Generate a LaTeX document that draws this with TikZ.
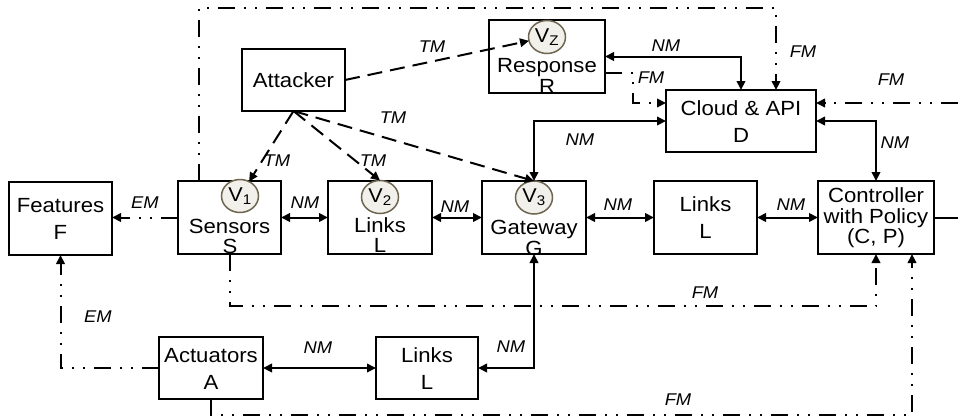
\documentclass[tikz,border=0pt]{standalone}
\usepackage{fontspec}
\setmainfont[FakeStretch=1.08]{Liberation Sans}
\usetikzlibrary{arrows.meta,shapes.geometric}
\definecolor{vgray}{HTML}{6E6650}
\definecolor{vfill}{HTML}{F1F0EB}
\begin{document}
\begin{tikzpicture}[x=1pt,y=-1pt,
  >={Triangle[length=9pt,width=8.5pt]},
  box/.style={draw, line width=2pt, inner sep=0pt, outer sep=0pt},
  vcirc/.style={ellipse, draw=vgray, fill=vfill, line width=1.5pt, minimum width=37pt, minimum height=33pt, inner sep=0pt, outer sep=0pt, font=\fontsize{20}{20}\selectfont},
  txt/.style={anchor=base, inner sep=0pt, font=\fontsize{20.5}{20.5}\selectfont},
  lab/.style={inner sep=0pt, font=\fontsize{17}{17}\selectfont\itshape},
  conn/.style={line width=2pt},
  tmline/.style={conn, dash pattern=on 15pt off 8pt},
  fmline/.style={conn, dash pattern=on 17pt off 9pt on 2pt off 9pt on 2pt off 9pt}]
\fill[white] (0,0) rectangle (958,418);
\useasboundingbox (0,0) rectangle (958,418);

% boxes
\node[box, minimum width=103pt, minimum height=73pt] (feat) at (60.5,218.5) {};
\node[box, minimum width=103pt, minimum height=73pt] (sens) at (229.5,217.5) {};
\node[box, minimum width=104pt, minimum height=73pt] (lnk2) at (380,217.5) {};
\node[box, minimum width=104pt, minimum height=73pt] (gate) at (534,217.5) {};
\node[box, minimum width=103pt, minimum height=73pt] (lnkm) at (705.5,217.5) {};
\node[box, minimum width=116pt, minimum height=73pt] (ctrl) at (876,217.5) {};
\node[box, minimum width=103pt, minimum height=62pt] (att) at (293.5,80) {};
\node[box, minimum width=116pt, minimum height=73pt] (resp) at (547,56.5) {};
\node[box, minimum width=150pt, minimum height=62pt] (cloud) at (741,121) {};
\node[box, minimum width=104pt, minimum height=62pt] (act) at (211,368) {};
\node[box, minimum width=102pt, minimum height=62pt] (lnkb) at (427,368) {};

% vulnerability circles
\node[vcirc] (v1) at (240,196) {V\textsubscript{1}};
\node[vcirc] (v2) at (380,197) {V\textsubscript{2}};
\node[vcirc] (v3) at (534,197.5) {V\textsubscript{3}};
\node[vcirc] (vz) at (547,37) {V\textsubscript{Z}};

% box texts
\node[txt] (tfeat1) at (60.5,212) {Features};
\node[txt] (tfeat2) at (60.5,239) {F};
\node[txt] (tsens1) at (229.5,233) {Sensors};
\node[txt] (tsens2) at (230,253) {S};
\node[txt] (tlnk21) at (380,232) {Links};
\node[txt] (tlnk22) at (380,252) {L};
\node[txt] (tgate1) at (534,234) {Gateway};
\node[txt] (tgate2) at (534,255) {G};
\node[txt] (tlnkm1) at (705.5,211) {Links};
\node[txt] (tlnkm2) at (705.5,238) {L};
\node[txt] (tctrl1) at (876,202) {Controller};
\node[txt] (tctrl2) at (876,223) {with Policy};
\node[txt] (tctrl3) at (876,243) {(C, P)};
\node[txt] (tatt) at (293.5,87) {Attacker};
\node[txt] (tresp1) at (547,72) {Response};
\node[txt] (tresp2) at (547,93) {R};
\node[txt] (tcloud1) at (741,115) {Cloud \& API};
\node[txt] (tcloud2) at (741,142) {D};
\node[txt] (tact1) at (211,362) {Actuators};
\node[txt] (tact2) at (211,389) {A};
\node[txt] (tlnkb1) at (427,362) {Links};
\node[txt] (tlnkb2) at (427,389) {L};

% helper coordinates
\coordinate (topR) at (776,8);
\coordinate (rightend) at (958,217.5);
\coordinate (rfm) at (958,103);
\coordinate (row1) at (0,306);
\coordinate (row2) at (0,415);
\coordinate (c2in) at (912,254);

% attacker threats
\draw[tmline,->] (att.east) -- (vz);
\draw[tmline,->] (att.south) -- (v1);
\draw[tmline,->] (att.south) -- (v2.north);
\draw[tmline,->] (att.south) -- (v3.north);

% network messages
\draw[conn,<->] (sens.east) -- (lnk2.west);
\draw[conn,<->] (lnk2.east) -- (gate.west);
\draw[conn,<->] (gate.east) -- (lnkm.west);
\draw[conn,<->] (lnkm.east) -- (ctrl.west);
\draw[conn] (ctrl.east) -- (rightend);
\draw[conn,<->] (resp.east) -| (cloud.north);
\draw[conn,<->] (cloud.west) -| (gate.north);
\draw[conn,<->] (cloud.east) -| (ctrl.north);
\draw[conn,<->] (gate.south) |- (lnkb.east);
\draw[conn,<->] (act.east) -- (lnkb.west);

% feedback / event messages
\draw[fmline,->] (sens.west) -- (sens.west -| feat.east);
\draw[fmline,->] (act.west) -| (feat.south);
\draw[fmline,->] ([xshift=-30.5pt]sens.north) |- (topR) -- (topR |- cloud.north);
\draw[fmline,->] ([yshift=-16.5pt]resp.east) -- ++(28,0) |- ([yshift=18pt]cloud.west);
\draw[fmline,->] (rfm) -- ([yshift=18pt]cloud.east);
\draw[fmline,->] (sens.south) |- (row1 -| ctrl.south) -- (ctrl.south);
\draw[fmline,->] (act.south) |- (c2in |- row2) -- (c2in);

% labels
\node[lab] (l1) at (432,47) {TM};
\node[lab] (l2) at (277,161) {TM};
\node[lab] (l3) at (373,161) {TM};
\node[lab] (l4) at (393,118) {TM};
\node[lab] (l5) at (803,52) {FM};
\node[lab] (l6) at (666,46) {NM};
\node[lab] (l7) at (651,78) {FM};
\node[lab] (l8) at (891,80) {FM};
\node[lab] (l9) at (580,140) {NM};
\node[lab] (l10) at (895,143) {NM};
\node[lab] (l11) at (145,203) {EM};
\node[lab] (l12) at (305,203) {NM};
\node[lab] (l13) at (455,207) {NM};
\node[lab] (l14) at (618,205) {NM};
\node[lab] (l15) at (791,205) {NM};
\node[lab] (l16) at (705,293) {FM};
\node[lab] (l17) at (511,347) {NM};
\node[lab] (l18) at (318,348) {NM};
\node[lab] (l19) at (98,317) {EM};
\node[lab] (l20) at (678,400) {FM};
\end{tikzpicture}
\end{document}
